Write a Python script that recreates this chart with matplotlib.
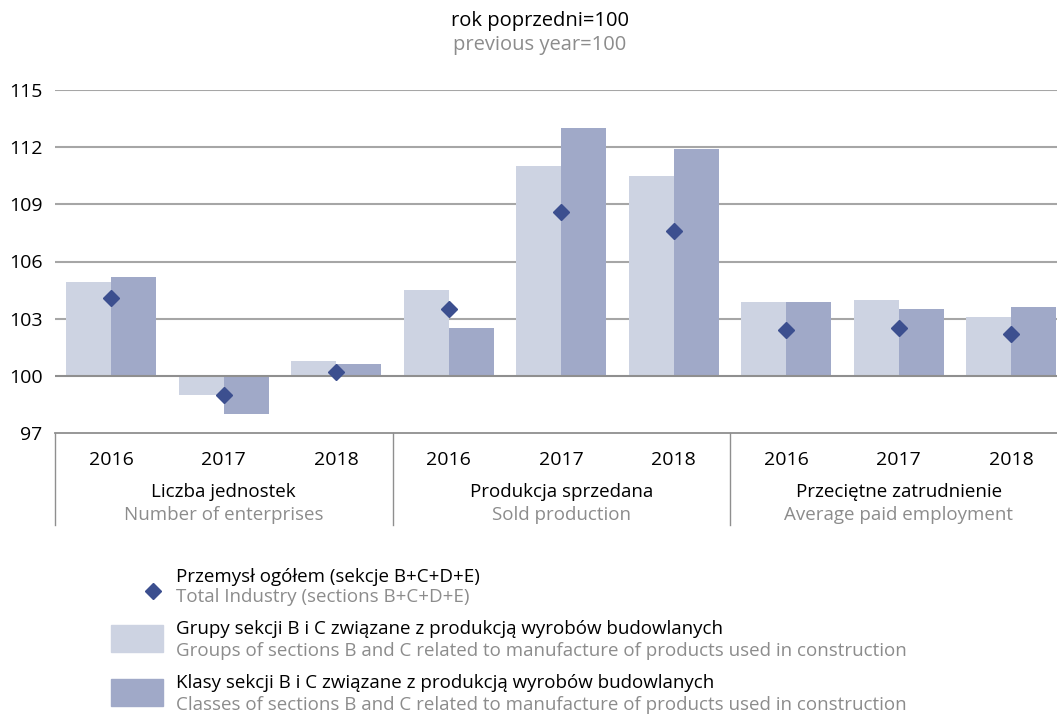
import numpy as np
import matplotlib.pyplot as plt
from matplotlib.patches import Rectangle
from matplotlib.lines import Line2D

plt.rcParams["font.family"] = ["Open Sans", "DejaVu Sans"]
FS = 13.5
FS_NUM = 14

years = ["2016", "2017", "2018"]
groups_pl = ["Liczba jednostek", "Produkcja sprzedana", "Przeciętne zatrudnienie"]
groups_en = ["Number of enterprises", "Sold production", "Average paid employment"]

# groups of sections B and C (light bars)
grupy = [104.9, 99.0, 100.8, 104.5, 111.0, 110.5, 103.9, 104.0, 103.1]
# classes of sections B and C (dark bars)
klasy = [105.2, 98.0, 100.6, 102.5, 113.0, 111.9, 103.9, 103.5, 103.6]
# total industry (diamonds)
ogolem = [104.1, 99.0, 100.2, 103.5, 108.6, 107.6, 102.4, 102.5, 102.2]

yticks = [97, 100, 103, 106, 109, 112, 115]

LIGHT = "#cdd3e2"
DARK = "#a0a9c8"
NAVY = "#3c4f8f"
GRID = "#a6a6a6"
GRAYTXT = "#8c8c8c"

W, H = 1057, 715
fig = plt.figure(figsize=(W / 100, H / 100), dpi=100)

def fx(px):
    return px / W

def fy(py):
    return 1 - py / H

ax = fig.add_axes([fx(55), fy(433), fx(1012.5), fy(90) - fy(433)])

x = np.arange(len(grupy)) + 0.5
bw = 0.4
base = 100
ax.bar(x - bw / 2, np.array(grupy) - base, bw, bottom=base, color=LIGHT, zorder=2)
ax.bar(x + bw / 2, np.array(klasy) - base, bw, bottom=base, color=DARK, zorder=2)
ax.plot(x, ogolem, linestyle="none", marker="D", markersize=8.5, color=NAVY, zorder=3)

ax.set_xlim(0, 9)
ax.set_ylim(97, 115)
ax.set_yticks(yticks)
ax.set_yticklabels([str(t) for t in yticks], fontsize=FS_NUM)
ax.tick_params(axis="y", length=0, pad=9)
ax.set_xticks([])
for t in yticks[1:]:
    ax.axhline(t, color="#8f8f8f" if t == 100 else GRID, lw=1.5, zorder=1 if t != 100 else 2.5)
for s in ["top", "right", "left"]:
    ax.spines[s].set_visible(False)
ax.spines["bottom"].set_color("#8f8f8f")
ax.spines["bottom"].set_linewidth(1.3)

# years and group labels below the axis
for i, xi in enumerate(x):
    ax.text(xi, -0.08, years[i % 3], transform=ax.get_xaxis_transform(),
            ha="center", va="center", fontsize=FS_NUM)
for g in range(3):
    ax.text(g * 3 + 1.5, -0.172, groups_pl[g], transform=ax.get_xaxis_transform(),
            ha="center", va="center", fontsize=FS)
    ax.text(g * 3 + 1.5, -0.238, groups_en[g], transform=ax.get_xaxis_transform(),
            ha="center", va="center", fontsize=FS, color=GRAYTXT)
    ax.plot([g * 3, g * 3], [0, -0.268], transform=ax.get_xaxis_transform(),
            color="#8f8f8f", lw=1.0, clip_on=False)

# title
fig.text(fx(540), fy(21), "rok poprzedni=100", ha="center", va="center", fontsize=14.5)
fig.text(fx(540), fy(45), "previous year=100", ha="center", va="center", fontsize=14.5, color=GRAYTXT)

# legend
fig.add_artist(Line2D([fx(153)], [fy(591)], marker="D", markersize=8.5, color=NAVY,
                      linestyle="none", transform=fig.transFigure))
fig.text(fx(176), fy(577), "Przemysł ogółem (sekcje B+C+D+E)", va="center", fontsize=FS)
fig.text(fx(176), fy(597), "Total Industry (sections B+C+D+E)", va="center", fontsize=FS, color=GRAYTXT)

fig.add_artist(Rectangle((fx(111), fy(652)), fx(52), fy(625) - fy(652), color=LIGHT,
                         transform=fig.transFigure))
fig.text(fx(176), fy(629), "Grupy sekcji B i C związane z produkcją wyrobów budowlanych",
         va="center", fontsize=FS)
fig.text(fx(176), fy(651), "Groups of sections B and C related to manufacture of products used in construction",
         va="center", fontsize=FS, color=GRAYTXT)

fig.add_artist(Rectangle((fx(111), fy(706)), fx(52), fy(679) - fy(706), color=DARK,
                         transform=fig.transFigure))
fig.text(fx(176), fy(683), "Klasy sekcji B i C związane z produkcją wyrobów budowlanych",
         va="center", fontsize=FS)
fig.text(fx(176), fy(705), "Classes of sections B and C related to manufacture of products used in construction",
         va="center", fontsize=FS, color=GRAYTXT)

fig.savefig("out.png", dpi=100)
